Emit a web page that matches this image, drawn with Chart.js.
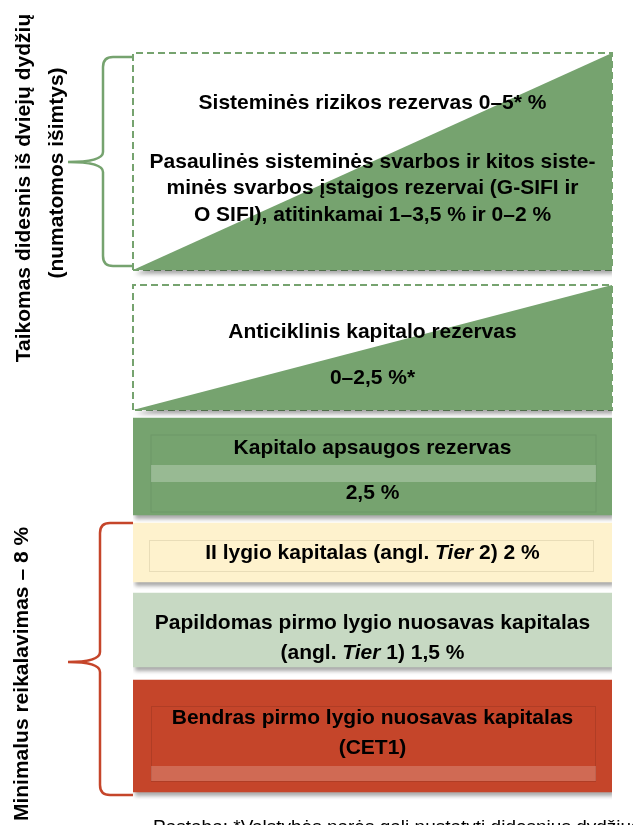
<!DOCTYPE html>
<html>
<head>
<meta charset="utf-8">
<script src="https://cdn.jsdelivr.net/npm/chart.js@4.4.1/dist/chart.umd.min.js"></script>
<style>
  html, body { margin: 0; padding: 0; background: #fff; }
</style>
</head>
<body>
<canvas id="myChart" width="633" height="825"></canvas>
<script>
// capital layers, bottom to top
const layers = ['CET1', 'AT1', 'Tier2', 'Conservation', 'Countercyclical', 'Systemic'];
// schematic extent of every layer (diagram units, not %)
const layerFrom = [0.8, 13.3, 21.8, 28.5, 39.0, 53.0];
const layerTo   = [12.0, 20.7, 27.7, 38.2, 51.5, 74.7];
// layers that are a range "0-x %" are drawn as a ramp
const rampLayers = [4, 5];

const layerText = [
    ['Bendras pirmo lygio nuosavas kapitalas', '(CET1)'],
    ['Papildomas pirmo lygio nuosavas kapitalas', '(angl. _Tier_ 1) 1,5 %'],
    ['II lygio kapitalas (angl. _Tier_ 2) 2 %'],
    ['Kapitalo apsaugos rezervas', '2,5 %'],
    ['Anticiklinis kapitalo rezervas', '0–2,5 %*'],
    ['Sisteminės rizikos rezervas 0–5* %', 'Pasaulinės sisteminės svarbos ir kitos siste-', 'minės svarbos įstaigos rezervai (G-SIFI ir', 'O SIFI), atitinkamai 1–3,5 % ir 0–2 %']
];

const bracketLabels = {
    top: ['Taikomas didesnis iš dviejų dydžių', '(numatomos išimtys)'],
    bottom: 'Minimalus reikalavimas – 8 %'
};
const footnote = 'Pastaba: *Valstybės narės gali nustatyti didesnius dydžius';

const GREEN = '#76a36f';
const layerColor = ['#c5452a', '#c7d9c3', '#fef2cd', GREEN, GREEN, GREEN];
// text rows, px from block top
const textRows = [[38, 68], [30, 60], [30], [30, 75], [47, 93], [50, 109, 135, 162]];
const FONT = '"Liberation Sans", Arial, sans-serif';
const SIZE = 21;

const datasets = [];
layers.forEach((name, i) => {
    if (rampLayers.includes(i)) {
        datasets.push({
            type: 'line', label: name, xAxisID: 'x2',
            data: [{x: 0, y: layerFrom[i]}, {x: 1, y: layerTo[i]}],
            fill: {target: {value: layerFrom[i]}},
            backgroundColor: layerColor[i], borderWidth: 0, pointRadius: 0,
            order: 2, clip: false
        });
        datasets.push({
            type: 'line', label: name + ' frame', xAxisID: 'x2', frame: true,
            data: [{x: 0, y: layerFrom[i]}, {x: 0, y: layerTo[i]}, {x: 1, y: layerTo[i]}, {x: 1, y: layerFrom[i]}, {x: 0, y: layerFrom[i]}],
            borderColor: GREEN, borderDash: [7, 4], borderWidth: 2, pointRadius: 0,
            fill: false, order: 3, clip: false
        });
    } else {
        datasets.push({
            type: 'bar', label: name,
            data: [[layerFrom[i], layerTo[i]]],
            backgroundColor: layerColor[i], borderWidth: 0,
            grouped: false, barPercentage: 1, categoryPercentage: 1, order: 1
        });
    }
});

function richText(ctx, str, cx, cy, size) {
    const parts = str.split('_');
    const fonts = parts.map((p, k) => (k % 2 ? 'italic bold ' : 'bold ') + size + 'px ' + FONT);
    let total = 0;
    const w = parts.map((p, k) => { ctx.font = fonts[k]; const m = ctx.measureText(p).width; total += m; return m; });
    let x = cx - total / 2;
    parts.forEach((p, k) => { ctx.font = fonts[k]; ctx.fillText(p, x, cy); x += w[k]; });
}

function bracket(ctx, xEnd, xSpine, xTip, yTop, yBot, yTip, color) {
    const r = 10;
    ctx.save();
    ctx.strokeStyle = color;
    ctx.lineWidth = 2.5;
    ctx.beginPath();
    ctx.moveTo(xEnd, yTop);
    ctx.lineTo(xSpine + r, yTop);
    ctx.quadraticCurveTo(xSpine, yTop, xSpine, yTop + r);
    ctx.lineTo(xSpine, yTip - r);
    ctx.quadraticCurveTo(xSpine, yTip, xTip, yTip);
    ctx.quadraticCurveTo(xSpine, yTip, xSpine, yTip + r);
    ctx.lineTo(xSpine, yBot - r);
    ctx.quadraticCurveTo(xSpine, yBot, xSpine + r, yBot);
    ctx.lineTo(xEnd, yBot);
    ctx.stroke();
    ctx.restore();
}

function rotText(ctx, str, x, y, font) {
    ctx.save();
    ctx.translate(x, y);
    ctx.rotate(-Math.PI / 2);
    ctx.font = font;
    ctx.textAlign = 'center';
    ctx.textBaseline = 'middle';
    ctx.fillStyle = '#000';
    ctx.fillText(str, 0, 0);
    ctx.restore();
}

const decor = {
    id: 'decor',
    beforeDatasetsDraw(chart) {
        const ctx = chart.ctx;
        ctx.save();
        ctx.shadowColor = 'rgba(0,0,0,0.35)';
        ctx.shadowBlur = 4;
        ctx.shadowOffsetX = 2;
        ctx.shadowOffsetY = 4;
    },
    beforeDatasetDraw(chart, args) {
        if (chart.data.datasets[args.index].frame) chart.ctx.shadowColor = 'rgba(0,0,0,0)';
    },
    afterDatasetDraw(chart, args) {
        if (chart.data.datasets[args.index].frame) chart.ctx.shadowColor = 'rgba(0,0,0,0.35)';
    },
    afterDatasetsDraw(chart) {
        const ctx = chart.ctx;
        ctx.restore();
        const y = chart.scales.y, a = chart.chartArea;
        const top = i => y.getPixelForValue(layerTo[i]);
        const bot = i => y.getPixelForValue(layerFrom[i]);

        // inner frames and highlight stripes
        ctx.save();
        // conservation buffer
        ctx.strokeStyle = 'rgba(0,0,0,0.07)'; ctx.lineWidth = 1;
        ctx.strokeRect(a.left + 18, top(3) + 17, a.right - a.left - 34, bot(3) - top(3) - 20);
        ctx.fillStyle = 'rgba(255,255,255,0.25)';
        ctx.fillRect(a.left + 18, top(3) + 47, a.right - a.left - 34, 17);
        // tier 2
        ctx.strokeStyle = '#e9ddb8';
        ctx.strokeRect(a.left + 16.5, top(2) + 17.5, a.right - a.left - 35, 31);
        // CET1
        ctx.strokeStyle = 'rgba(0,0,0,0.1)';
        ctx.strokeRect(a.left + 18.5, top(0) + 26.5, a.right - a.left - 35, 75);
        ctx.fillStyle = 'rgba(255,255,255,0.2)';
        ctx.fillRect(a.left + 18, top(0) + 86, a.right - a.left - 34, 15);
        ctx.restore();

        // block texts
        ctx.save();
        ctx.fillStyle = '#000';
        ctx.textBaseline = 'middle';
        ctx.textAlign = 'left';
        const cx = (a.left + a.right) / 2;
        layerText.forEach((lines, i) => {
            lines.forEach((ln, k) => richText(ctx, ln, cx, top(i) + textRows[i][k], SIZE));
        });
        ctx.restore();

        // braces
        bracket(ctx, a.left, 103, 68, top(5) + 4, bot(5) - 4, 162, GREEN);
        bracket(ctx, a.left, 100, 68, top(2), bot(0) + 3, 662, '#c5452a');

        const bf = 'bold ' + SIZE + 'px ' + FONT;
        rotText(ctx, bracketLabels.top[0], 24, 188, bf);
        rotText(ctx, bracketLabels.top[1], 57, 173, bf);
        rotText(ctx, bracketLabels.bottom, 22, 674, bf);

        ctx.save();
        ctx.font = '19px ' + FONT;
        ctx.fillStyle = '#000';
        ctx.textBaseline = 'top';
        ctx.fillText(footnote, 153, 818);
        ctx.restore();
    }
};

const ctx = document.getElementById('myChart').getContext('2d');
const myChart = new Chart(ctx, {
    type: 'bar',
    data: {
        labels: ['Kapitalo reikalavimai'],
        datasets: datasets
    },
    options: {
        responsive: false,
        animation: false,
        layout: { padding: { left: 133, right: 21, top: 40, bottom: 25 } },
        scales: {
            x: { type: 'category', display: false },
            x2: { type: 'linear', min: 0, max: 1, offset: false, display: false },
            y: { min: 0, max: 76, display: false }
        },
        plugins: {
            legend: { display: false },
            tooltip: { enabled: false }
        }
    },
    plugins: [decor]
});
</script>
</body>
</html>
